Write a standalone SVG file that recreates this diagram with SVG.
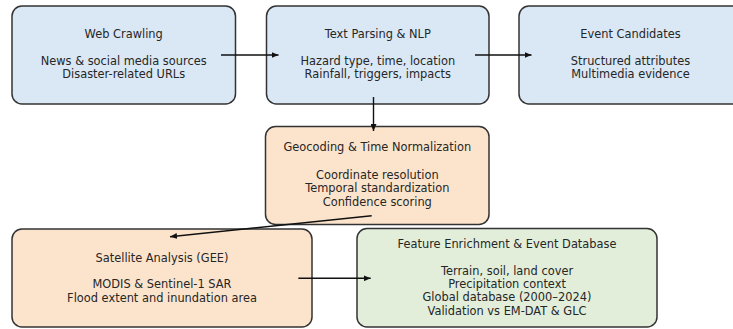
<svg xmlns="http://www.w3.org/2000/svg" width="733" height="329" viewBox="0 0 733 329">
<style>
.box{stroke:#333;stroke-width:1.5}
.blue{fill:#dae8f5}
.orange{fill:#fce4cc}
.green{fill:#e2eeda}
text{font-family:"DejaVu Sans",sans-serif;font-size:11.4px;fill:#262626;text-anchor:middle}
.conn{stroke:#111;stroke-width:1.4;fill:none;marker-end:url(#arrow)}
</style>
<defs>
<marker id="arrow" viewBox="0 0 7 6" markerWidth="7" markerHeight="6" refX="7" refY="3" orient="auto" markerUnits="userSpaceOnUse">
<path d="M0,0 L7,3 L0,6 z" fill="#111"/>
</marker>
</defs>
<rect width="733" height="329" fill="#fff"/>
<g id="web-crawling">
<rect class="box blue" x="12" y="6" width="223.5" height="98" rx="10"/>
<text x="123.7" y="38">Web Crawling</text>
<text x="123.7" y="65">News &amp; social media sources</text>
<text x="123.7" y="78">Disaster-related URLs</text>
</g>
<g id="text-parsing">
<rect class="box blue" x="266.5" y="6" width="222.5" height="98" rx="10"/>
<text x="377.8" y="38">Text Parsing &amp; NLP</text>
<text x="377.8" y="65">Hazard type, time, location</text>
<text x="377.8" y="78">Rainfall, triggers, impacts</text>
</g>
<g id="event-candidates">
<rect class="box blue" x="519" y="6" width="223" height="98" rx="10"/>
<text x="630.5" y="38">Event Candidates</text>
<text x="630.5" y="65">Structured attributes</text>
<text x="630.5" y="78">Multimedia evidence</text>
</g>
<g id="geocoding">
<rect class="box orange" x="265.5" y="126.5" width="223.5" height="98" rx="10"/>
<text x="377.3" y="151.3">Geocoding &amp; Time Normalization</text>
<text x="377.3" y="179">Coordinate resolution</text>
<text x="377.3" y="192.3">Temporal standardization</text>
<text x="377.3" y="205.7">Confidence scoring</text>
</g>
<g id="satellite">
<rect class="box orange" x="12" y="229" width="300" height="98" rx="10"/>
<text x="162" y="261.7">Satellite Analysis (GEE)</text>
<text x="162" y="288">MODIS &amp; Sentinel-1 SAR</text>
<text x="162" y="301.7">Flood extent and inundation area</text>
</g>
<g id="feature-enrichment">
<rect class="box green" x="357" y="228.5" width="300" height="98.5" rx="10"/>
<text x="507" y="248">Feature Enrichment &amp; Event Database</text>
<text x="507" y="274.7">Terrain, soil, land cover</text>
<text x="507" y="288">Precipitation context</text>
<text x="507" y="301.3">Global database (2000–2024)</text>
<text x="507" y="314.7">Validation vs EM-DAT &amp; GLC</text>
</g>
<g id="connectors">
<line class="conn" x1="221" y1="55" x2="278.5" y2="55"/>
<line class="conn" x1="475" y1="55" x2="531.5" y2="55"/>
<line class="conn" x1="373.5" y1="97" x2="373.5" y2="131"/>
<line class="conn" x1="371.7" y1="215.7" x2="170" y2="236.7"/>
<line class="conn" x1="298.3" y1="278.3" x2="370.7" y2="278.3"/>
</g>
</svg>
